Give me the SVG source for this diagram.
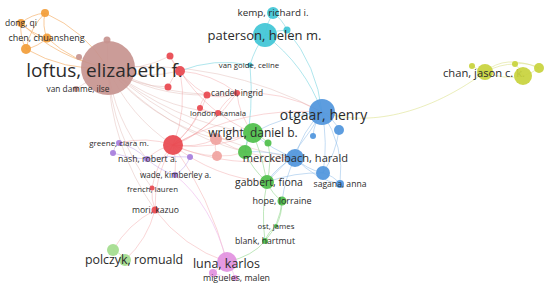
<svg xmlns="http://www.w3.org/2000/svg" width="550" height="288" viewBox="0 0 550 288">
<style>
text{font-family:"Open Sans","Liberation Sans",sans-serif;fill:#2b2b2b;text-anchor:middle}
.e{fill:none;stroke-width:1}
.eo{stroke:#f5b574;stroke-opacity:.7}
.eb{stroke:#dcaeaa;stroke-opacity:.4}
.er{stroke:#ef8a8c;stroke-opacity:.35}
.ep{stroke:#f2b6b4;stroke-opacity:.5}
.ec{stroke:#8fdce6;stroke-opacity:.7}
.ebl{stroke:#93bfea;stroke-opacity:.55}
.eg{stroke:#94d78f;stroke-opacity:.6}
.elg{stroke:#c3e8b4;stroke-opacity:.7}
.em{stroke:#eeb7ec;stroke-opacity:.6}
.epu{stroke:#c9b0ec;stroke-opacity:.6}
.ey{stroke:#dde38f;stroke-opacity:.6}
.o{fill:#f29d38}.b{fill:#c7948f}.r{fill:#e8474e}.p{fill:#f0a3a0}.c{fill:#3fc5d6}.bl{fill:#4f95dc}.g{fill:#4ebf4a}.lg{fill:#a3dc8d}.m{fill:#e291e0}.pu{fill:#a67ddc}.y{fill:#c8d33c}
circle{fill-opacity:.92}
</style>
<g id="connectors">
<path class="e eo" d="M45 13Q31.5 14.4 21 23"/>
<path class="e eo" d="M45 13Q42 26 47 38"/>
<path class="e eo" d="M21 23Q32 34 47 38"/>
<path class="e eo" d="M21 23Q19.6 36.8 26 49"/>
<path class="e eo" d="M26 49Q38 46.6 47 38"/>
<path class="e eo" d="M45 13Q30 28 26 49"/>
<path class="e eo" d="M26 49Q64 71 108 68"/>
<path class="e eo" d="M47 38Q73 62 108 68"/>
<path class="e eo" d="M45 13Q85 31 108 68"/>
<path class="e eo" d="M21 23Q58 58.5 108 68"/>
<path class="e eb" d="M107 40L108 68"/>
<path class="e eb" d="M79 57L108 68"/>
<path class="e eb" d="M76 89L108 68"/>
<path class="e eb" d="M108 68Q143.5 80 180 71"/>
<path class="e eb" d="M108 68Q141 71 170 56"/>
<path class="e eb" d="M108 68Q135 86.5 168 87"/>
<path class="e eb" d="M108 68Q129 116 173 145"/>
<path class="e eb" d="M108 68Q153.5 96 207 95"/>
<path class="e eb" d="M108 68Q169 100 237 93"/>
<path class="e eb" d="M108 68Q156 107 218 113"/>
<path class="e eb" d="M108 68Q151 120 216 139"/>
<path class="e eb" d="M108 68Q171 122 253 133"/>
<path class="e eb" d="M108 68Q188 141 295 158"/>
<path class="e eb" d="M108 68Q221 58 322 112"/>
<path class="e eb" d="M108 68Q110 146 155 210"/>
<path class="e eb" d="M108 68Q112 134.6 152 188"/>
<path class="e eb" d="M108 68Q114 119 147 159"/>
<path class="e eb" d="M108 68Q164 130.5 245 152"/>
<path class="e er" d="M173 145Q187.6 109 180 71"/>
<path class="e er" d="M173 145Q197.5 125 207 95"/>
<path class="e er" d="M173 145Q213 128.6 237 93"/>
<path class="e er" d="M173 145Q200 136 218 113"/>
<path class="e er" d="M173 145Q192 130.5 200 108"/>
<path class="e er" d="M173 145Q195.4 148.5 216 139"/>
<path class="e er" d="M173 145Q215 151 253 133"/>
<path class="e er" d="M173 145Q232 170 295 158"/>
<path class="e er" d="M173 145Q242.5 106.5 322 112"/>
<path class="e er" d="M173 145Q156 163 152 188"/>
<path class="e er" d="M173 145Q154 175 155 210"/>
<path class="e er" d="M173 145Q146 136 119 143"/>
<path class="e er" d="M173 145Q158 148 147 159"/>
<path class="e er" d="M173 145Q177 160 175 175"/>
<path class="e er" d="M173 145Q214.5 177.5 267 182"/>
<path class="e er" d="M173 145Q210 197 227 262"/>
<path class="e er" d="M152 188Q151 199 155 210"/>
<path class="e er" d="M155 210Q128 224 113 250"/>
<path class="e er" d="M155 210Q147.5 239.5 125 260"/>
<path class="e er" d="M155 210Q183 247 227 262"/>
<path class="e er" d="M180 71Q172 62 170 56"/>
<path class="e er" d="M180 71Q171 78 168 87"/>
<path class="e er" d="M170 56Q182.6 81 207 95"/>
<path class="e er" d="M207 95Q222 99.5 237 93"/>
<path class="e er" d="M207 95Q201 100 200 108"/>
<path class="e er" d="M200 108Q208 113 218 113"/>
<path class="e er" d="M237 93Q225 100 218 113"/>
<path class="e er" d="M180 71Q212 73.5 237 93"/>
<path class="e er" d="M180 71Q207 113 253 133"/>
<path class="e er" d="M237 93Q239 115 253 133"/>
<path class="e er" d="M237 93Q282 90 322 112"/>
<path class="e ep" d="M216 139Q235 140 253 133"/>
<path class="e ep" d="M217 156Q231 157 245 152"/>
<path class="e ep" d="M216 139Q214 148 217 156"/>
<path class="e ep" d="M217 156Q194 155 173 145"/>
<path class="e ep" d="M216 139Q252.6 160 295 158"/>
<path class="e ec" d="M180 71Q214 57.5 250 65"/>
<path class="e ec" d="M273 13Q267 22 265 35"/>
<path class="e ec" d="M287 30Q275 30 265 35"/>
<path class="e ec" d="M273 13Q282 19 287 30"/>
<path class="e ec" d="M287 30Q317 66 322 112"/>
<path class="e ec" d="M265 35Q255 48 250 65"/>
<path class="e ec" d="M250 65Q254 109 245 152"/>
<path class="e ec" d="M265 35Q305 65 322 112"/>
<path class="e ebl" d="M322 112Q334 119 339 130"/>
<path class="e ebl" d="M322 112Q314 123 313 136"/>
<path class="e ebl" d="M322 112Q302 131 295 158"/>
<path class="e ebl" d="M322 112Q328 143 323 173"/>
<path class="e ebl" d="M322 112Q345 147 340 184"/>
<path class="e ebl" d="M295 158Q306 169 323 173"/>
<path class="e ebl" d="M323 173Q334 176 340 184"/>
<path class="e ebl" d="M295 158Q316 180 340 184"/>
<path class="e ebl" d="M339 130Q336 153 323 173"/>
<path class="e ebl" d="M322 112Q285 115 253 133"/>
<path class="e ebl" d="M295 158Q272 150 253 133"/>
<path class="e ebl" d="M295 158Q278 165 267 182"/>
<path class="e ebl" d="M322 112Q300 150 267 182"/>
<path class="e ebl" d="M295 158Q268 150 245 152"/>
<path class="e ebl" d="M323 173Q295 172 267 182"/>
<path class="e ebl" d="M295 158Q285 178 282 201"/>
<path class="e eg" d="M253 133Q262 136 268 143"/>
<path class="e eg" d="M253 133Q246 141 245 152"/>
<path class="e eg" d="M245 152Q252 169 267 182"/>
<path class="e eg" d="M267 182Q272 194 282 201"/>
<path class="e eg" d="M282 201Q282 215 276 226"/>
<path class="e eg" d="M276 226Q268 232 265 241"/>
<path class="e eg" d="M253 133Q263 157 267 182"/>
<path class="e eg" d="M282 201Q280 224 265 241"/>
<path class="e eg" d="M267 182Q261 212 265 241"/>
<path class="e eg" d="M268 143Q272 162 267 182"/>
<path class="e eg" d="M265 241Q253 256 227 262"/>
<path class="e epu" d="M119 143Q114 146 113 153"/>
<path class="e epu" d="M119 143Q135 147 147 159"/>
<path class="e epu" d="M113 153Q130 159 147 159"/>
<path class="e epu" d="M147 159Q159 170 175 175"/>
<path class="e epu" d="M175 175Q186 168 190 157"/>
<path class="e epu" d="M147 159Q168 155 190 157"/>
<path class="e em" d="M175 175Q212 205 227 262"/>
<path class="e em" d="M227 262Q218 266 213 273"/>
<path class="e em" d="M227 262Q233 269 235 278"/>
<path class="e em" d="M213 273Q224 278 235 278"/>
<path class="e elg" d="M113 250Q121 253 125 260"/>
<path class="e ey" d="M472 66Q478 70 485 72"/>
<path class="e ey" d="M485 72Q500 64 515 64"/>
<path class="e ey" d="M515 64Q521 69 523 76"/>
<path class="e ey" d="M523 76Q532 73 539 68"/>
<path class="e ey" d="M485 72Q504 80 523 76"/>
<path class="e ey" d="M515 64Q528 62 539 68"/>
<path class="e ey" d="M485 72Q505 54 539 68"/>
<path class="e ey" d="M322 112C360 125 420 120 485 72"/>
</g>
<g id="n-orange1"><circle class="o" cx="45" cy="13" r="4"/></g>
<g id="n-dong"><circle class="o" cx="21" cy="23" r="4"/><text x="21" y="23" dy=".35em" font-size="8.5">dong, qi</text></g>
<g id="n-chen"><circle class="o" cx="47" cy="38" r="4.5"/><text x="46.5" y="38" dy=".35em" font-size="9">chen, chuansheng</text></g>
<g id="n-orange4"><circle class="o" cx="26" cy="49" r="5"/></g>
<g id="n-brown1"><circle class="b" cx="107" cy="40" r="3.5"/></g>
<g id="n-brown2"><circle class="b" cx="79" cy="57" r="3"/></g>
<g id="n-loftus"><circle class="b" cx="108" cy="68" r="27"/><text x="104.5" y="70.5" dy=".35em" font-size="19">loftus, elizabeth f.</text></g>
<g id="n-vandamme"><circle class="b" cx="76" cy="89" r="3"/><text x="78" y="89" dy=".35em" font-size="8.3">van damme, ilse</text></g>
<g id="n-red1"><circle class="r" cx="180" cy="71" r="5"/></g>
<g id="n-red2"><circle class="r" cx="170" cy="56" r="3.5"/></g>
<g id="n-red3"><circle class="r" cx="168" cy="87" r="3.5"/></g>
<g id="n-red4"><circle class="r" cx="207" cy="95" r="3.5"/></g>
<g id="n-candel"><circle class="r" cx="237" cy="93" r="3"/><text x="237" y="93" dy=".35em" font-size="8.3">candel, ingrid</text></g>
<g id="n-red6"><circle class="r" cx="200" cy="108" r="3"/></g>
<g id="n-london"><circle class="r" cx="218" cy="113" r="3"/><text x="218" y="113" dy=".35em" font-size="7.8">london, kamala</text></g>
<g id="n-redbig"><circle class="r" cx="173" cy="145" r="10"/></g>
<g id="n-pink1"><circle class="p" cx="216" cy="139" r="6"/></g>
<g id="n-pink2"><circle class="p" cx="217" cy="156" r="5"/></g>
<g id="n-french"><circle class="r" cx="152" cy="188" r="2.5"/><text x="152.5" y="189" dy=".35em" font-size="7.8">french, lauren</text></g>
<g id="n-mori"><circle class="r" cx="155" cy="210" r="3.5"/><text x="155.5" y="210" dy=".35em" font-size="8.6">mori, kazuo</text></g>
<g id="n-kemp"><circle class="c" cx="273" cy="13" r="6"/><text x="273" y="13" dy=".35em" font-size="9.8">kemp, richard i.</text></g>
<g id="n-cyan3"><circle class="c" cx="287" cy="30" r="3.5"/></g>
<g id="n-paterson"><circle class="c" cx="265" cy="35" r="12"/><text x="264.5" y="35" dy=".35em" font-size="13">paterson, helen m.</text></g>
<g id="n-vangolde"><circle class="c" cx="250" cy="65" r="2.5"/><text x="249" y="65" dy=".35em" font-size="7.8">van golde, celine</text></g>
<g id="n-otgaar"><circle class="bl" cx="322" cy="112" r="13"/><text x="323.5" y="115" dy=".35em" font-size="14">otgaar, henry</text></g>
<g id="n-blue1"><circle class="bl" cx="339" cy="130" r="5"/></g>
<g id="n-blue2"><circle class="bl" cx="313" cy="136" r="3"/></g>
<g id="n-blue4"><circle class="bl" cx="323" cy="173" r="7"/></g>
<g id="n-wright"><circle class="g" cx="253" cy="133" r="10"/><text x="253" y="133" dy=".35em" font-size="12">wright, daniel b.</text></g>
<g id="n-green2"><circle class="g" cx="268" cy="143" r="3.5"/></g>
<g id="n-green3"><circle class="g" cx="245" cy="152" r="7"/></g>
<g id="n-merckelbach"><circle class="bl" cx="295" cy="158" r="9"/><text x="295.5" y="158" dy=".35em" font-size="11.1">merckelbach, harald</text></g>
<g id="n-sagana"><circle class="bl" cx="340" cy="184" r="4"/><text x="340" y="184" dy=".35em" font-size="8.6">sagana, anna</text></g>
<g id="n-gabbert"><circle class="g" cx="267" cy="182" r="7"/><text x="269" y="182" dy=".35em" font-size="10.4">gabbert, fiona</text></g>
<g id="n-hope"><circle class="g" cx="282" cy="201" r="4.5"/><text x="282" y="201" dy=".35em" font-size="9">hope, lorraine</text></g>
<g id="n-ost"><circle class="g" cx="276" cy="226" r="2"/><text x="276" y="226" dy=".35em" font-size="7.8">ost, james</text></g>
<g id="n-blank"><circle class="g" cx="265" cy="241" r="3"/><text x="265" y="241" dy=".35em" font-size="8.7">blank, hartmut</text></g>
<g id="n-greene"><circle class="pu" cx="119" cy="143" r="3"/><text x="119" y="143" dy=".35em" font-size="8">greene, ciara m.</text></g>
<g id="n-purple2"><circle class="pu" cx="113" cy="153" r="3"/></g>
<g id="n-nash"><circle class="pu" cx="147" cy="159" r="3"/><text x="147.5" y="159" dy=".35em" font-size="8.7">nash, robert a.</text></g>
<g id="n-purple4"><circle class="pu" cx="190" cy="157" r="3"/></g>
<g id="n-wade"><circle class="pu" cx="175" cy="175" r="3"/><text x="175.5" y="175" dy=".35em" font-size="8.2">wade, kimberley a.</text></g>
<g id="n-lgreen1"><circle class="lg" cx="113" cy="250" r="6"/></g>
<g id="n-polczyk"><circle class="lg" cx="125" cy="260" r="6"/><text x="134" y="260" dy=".35em" font-size="12.4">polczyk, romuald</text></g>
<g id="n-luna"><circle class="m" cx="227" cy="262" r="10"/><text x="226.5" y="263.6" dy=".35em" font-size="12.5">luna, karlos</text></g>
<g id="n-migueles"><circle class="m" cx="213" cy="273" r="4"/><circle class="m" cx="235" cy="278" r="3"/><text x="236.5" y="278" dy=".35em" font-size="8.8">migueles, malen</text></g>
<g id="n-yellow1"><circle class="y" cx="472" cy="66" r="3"/></g>
<g id="n-chan"><circle class="y" cx="485" cy="72" r="8"/><text x="484" y="73" dy=".35em" font-size="11.2">chan, jason c. k.</text></g>
<g id="n-yellow3"><circle class="y" cx="515" cy="64" r="3"/></g>
<g id="n-yellow4"><circle class="y" cx="523" cy="76" r="9"/></g>
<g id="n-yellow5"><circle class="y" cx="539" cy="68" r="5"/></g>
</svg>
